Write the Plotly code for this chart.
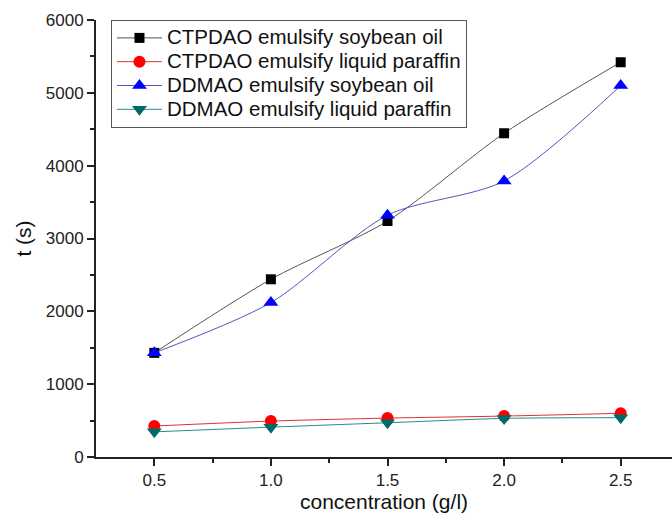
import plotly.graph_objects as go

# concentration of emulsifier (g/l)
concentration = [0.5, 1.0, 1.5, 2.0, 2.5]

# emulsion stability time t (s)
ctpdao_soybean = [1430, 2440, 3240, 4445, 5420]
ctpdao_paraffin = [425, 493, 534, 562, 600]
ddmao_soybean = [1430, 2120, 3320, 3790, 5100]
ddmao_paraffin = [345, 410, 470, 530, 540]

series = [
    ("CTPDAO emulsify soybean oil", ctpdao_soybean, "#555555", "#000000", "square", 10),
    ("CTPDAO emulsify liquid paraffin", ctpdao_paraffin, "#e03030", "#ff0000", "circle", 12),
    ("DDMAO emulsify soybean oil", ddmao_soybean, "#5555bb", "#0000ff", "triangle-up", 13),
    ("DDMAO emulsify liquid paraffin", ddmao_paraffin, "#2a8a8a", "#006a6a", "triangle-down", 13),
]

fig = go.Figure()
for name, vals, lc, mc, sym, ms in series:
    fig.add_trace(go.Scatter(
        x=concentration, y=vals,
        # larger label text inside compact legend rows
        name=f'<span style="font-size:20.5px">{name}</span>',
        mode="lines+markers",
        line=dict(color=lc, width=1, shape="spline", smoothing=0.8),
        marker=dict(color=mc, symbol=sym, size=ms),
    ))

axis_common = dict(
    showline=True, linecolor="#222222", linewidth=2,
    ticks="outside", ticklen=7, tickwidth=2, tickcolor="#222222",
    showgrid=False, zeroline=False,
    tickfont=dict(family="Liberation Sans, Arial", size=17, color="#222222"),
    title_font=dict(family="Liberation Sans, Arial", size=21, color="#111111"),
)

fig.update_xaxes(
    range=[0.25, 2.72], tickvals=concentration,
    ticktext=["0.5", "1.0", "1.5", "2.0", "2.5"],
    minor=dict(ticks="outside", ticklen=4, tickwidth=2, tickcolor="#222222", tickvals=[0.75, 1.25, 1.75, 2.25]),
    title_text="concentration (g/l)", title_standoff=4,
    **axis_common,
)
fig.update_yaxes(
    range=[0, 6000], dtick=1000, tick0=0,
    minor=dict(ticks="outside", ticklen=4, tickwidth=2, tickcolor="#222222", dtick=500, tick0=0),
    title_text="t (s)", title_standoff=8,
    **axis_common,
)

fig.update_layout(
    width=672, height=514,
    margin=dict(l=96, r=0, t=20, b=57),
    paper_bgcolor="white", plot_bgcolor="white",
    showlegend=True,
    legend=dict(
        x=0.026, y=1.0, xanchor="left", yanchor="top",
        bordercolor="#555555", borderwidth=1, bgcolor="white",
        font=dict(family="Liberation Sans, Arial", size=16, color="#111111"),
        itemwidth=45,
    ),
)

fig.write_html("out.html")
